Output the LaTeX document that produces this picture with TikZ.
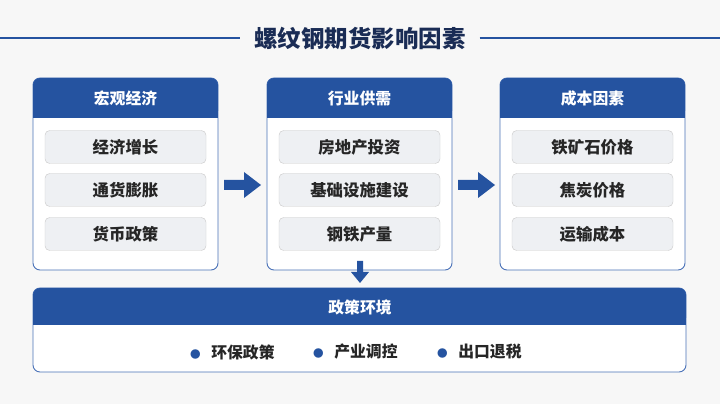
\documentclass[tikz,border=0pt]{standalone}
\usepackage{fontspec}
\setmainfont{Noto Sans CJK SC}
\usetikzlibrary{positioning}
\definecolor{hdblue}{HTML}{2553A0}
\definecolor{framebl}{HTML}{4A72B8}
\definecolor{itemgr}{HTML}{EEF0F3}
\definecolor{ttl}{HTML}{1A2C55}
\tikzset{
  panel/.style={draw=framebl, line width=0.8pt, fill=white, rounded corners=6pt},
  header/.style={fill=hdblue, text=white, font=\bfseries\fontsize{13.5}{16}\selectfont},
  itembox/.style={draw=black!20, fill=itemgr, rounded corners=4pt, minimum width=161*0.03cm,
    minimum height=33*0.03cm, font=\bfseries\fontsize{14}{16}\selectfont, text=black!85},
  flowarrow/.style={fill=hdblue, draw=none},
  bullet/.style={font=\bfseries\fontsize{13.5}{16}\selectfont, text=black!85, anchor=west}
}
\begin{document}
\begin{tikzpicture}[x=0.03cm, y=-0.03cm]
  \useasboundingbox[fill=black!3] (0,0) rectangle (720,404);
  % title
  \node[font=\bfseries\fontsize{20}{24}\selectfont, text=ttl, inner xsep=12pt] (title) at (360,38) {螺纹钢期货影响因素};
  \draw[hdblue, line width=1pt] (0,38) -- (title.west);
  \draw[hdblue, line width=1pt] (title.east) -- (720,38);
  % panels
  \foreach \x/\name/\hd/\a/\b/\c in {33/macro/宏观经济/经济增长/通货膨胀/货币政策,
      267/supply/行业供需/房地产投资/基础设施建设/钢铁产量,
      500/cost/成本因素/铁矿石价格/焦炭价格/运输成本}{
    \draw[panel] (\x,78) rectangle ++(185,192);
    \fill[header, rounded corners=6pt] (\x,78) rectangle ++(185,40);
    \fill[hdblue] (\x,105) rectangle ++(185,13);
    \node[header, fill=none] (\name-hd) at (\x+92.5,98) {\hd};
    \node[itembox] (\name-a) at (\x+92.5,147) {\a};
    \node[itembox] (\name-b) at (\x+92.5,190) {\b};
    \node[itembox] (\name-c) at (\x+92.5,234) {\c};
  }
  % arrows
  \foreach \x in {224,458}{
    \fill[flowarrow] (\x,180) -- ++(20,0) -- ++(0,-8) -- ++(17,13) -- ++(-17,13) -- ++(0,-8) -- ++(-20,0) -- cycle;
  }
  \fill[flowarrow] (357,261) -- (363,261) -- (363,272) -- (369,272) -- (360,283) -- (351,272) -- (357,272) -- cycle;
  % policy panel
  \draw[panel] (33,288) rectangle (686,372);
  \fill[header, rounded corners=6pt] (33,288) rectangle (686,325);
  \fill[hdblue] (33,312) rectangle (686,325);
  \node[header, fill=none] (policy-hd) at (360,307) {政策环境};
  \node[bullet] (pol-a) at (186,352) {\textcolor{hdblue}{\fontsize{9}{10}\selectfont●}\;\, 环保政策};
  \node[bullet] (pol-b) at (309,352) {\textcolor{hdblue}{\fontsize{9}{10}\selectfont●}\;\, 产业调控};
  \node[bullet] (pol-c) at (433,352) {\textcolor{hdblue}{\fontsize{9}{10}\selectfont●}\;\, 出口退税};
\end{tikzpicture}
\end{document}
